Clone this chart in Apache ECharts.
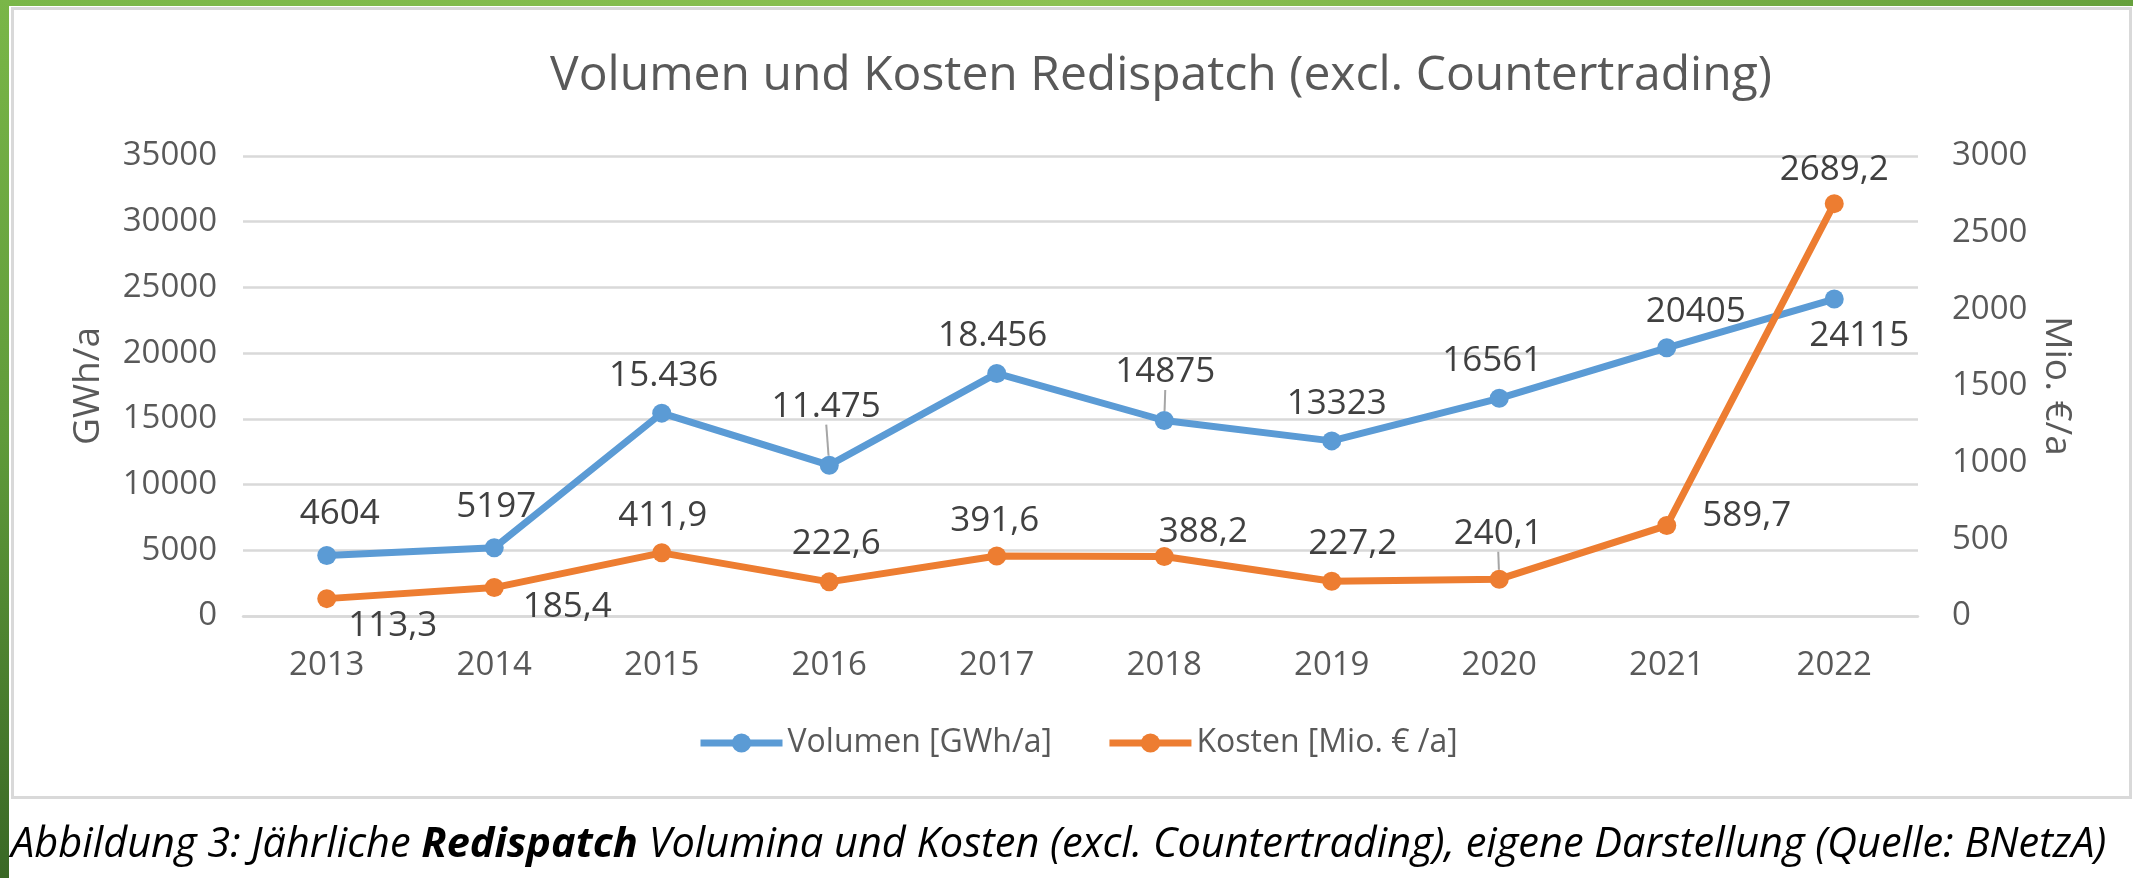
<!DOCTYPE html>
<html><head><meta charset="utf-8">
<script src="https://cdn.jsdelivr.net/npm/echarts@6/dist/echarts.min.js"></script>
<style>html,body{margin:0;padding:0;background:#fff}#c{width:2133px;height:878px}</style>
</head><body><div id="c"></div>
<script>
// ---- data ----
const categories = ['2013','2014','2015','2016','2017','2018','2019','2020','2021','2022'];
const volumen = [4604, 5197, 15436, 11475, 18456, 14875, 13323, 16561, 20405, 24115];
const kosten = [113.3, 185.4, 411.9, 222.6, 391.6, 388.2, 227.2, 240.1, 589.7, 2689.2];
const volumenLabels = ['4604','5197','15.436','11.475','18.456','14875','13323','16561','20405','24115'];
const kostenLabels = ['113,3','185,4','411,9','222,6','391,6','388,2','227,2','240,1','589,7','2689,2'];
const seriesNames = ['Volumen [GWh/a]', 'Kosten [Mio. \u20AC /a]'];
const axisNames = ['GWh/a', 'Mio. \u20AC/a'];
const titleText = 'Volumen und Kosten Redispatch (excl. Countertrading)';

// ---- layout / style (label placement) ----
const volOffsets = [[13,-41],[2,-41],[2,-37],[-3,-58],[-4,-37],[1,-48],[5,-37],[-7,-37],[29,-36],[25,37]];
const volLeader = [false,false,false,true,false,true,false,false,false,false];
const kosOffsets = [[66,27],[73,19],[1,-37],[7,-38],[-2,-35],[39,-24],[21,-37],[-1,-45],[80,-10],[0,-34]];
const kosLeader = [false,false,false,false,false,false,false,true,false,false];

const FONT = 'Open Sans';
const GRAY = '#595959';
const BLUE = '#5B9BD5', ORANGE = '#ED7D31';

const chart = echarts.init(document.getElementById('c'), null, {renderer:'canvas'});

function mk(vals, labels, offs, leads) {
  return vals.map((v,i)=>({
    value: v,
    label: { offset: offs[i], formatter: labels[i] },
    labelLine: { show: leads[i] }
  }));
}

const option = {
  backgroundColor: '#ffffff',
  animation: false,
  title: {
    text: titleText, left: 1156, top: 47, textAlign: 'center',
    textStyle: { fontFamily: FONT, fontSize: 48, fontWeight: 'normal', color: GRAY }
  },
  legend: {
    data: seriesNames, left: 692, top: 722, itemWidth: 82, itemHeight: 24, itemGap: 54,
    lineStyle: { width: 7 },
    textStyle: { fontFamily: FONT, fontSize: 32, color: GRAY }
  },
  grid: { left: 243, right: 215, top: 156, bottom: 262, containLabel: false },
  xAxis: {
    type: 'category', data: categories, boundaryGap: true,
    axisLine: { lineStyle: { color: '#D9D9D9', width: 2.5 } },
    axisTick: { show: false },
    axisLabel: { color: GRAY, fontFamily: FONT, fontSize: 33, margin: 33 }
  },
  yAxis: [
    {
      type: 'value', min: 0, max: 35000, interval: 5000, position: 'left',
      name: axisNames[0], nameLocation: 'middle', nameGap: 136,
      nameTextStyle: { fontFamily: FONT, fontSize: 37, color: GRAY },
      axisLine: { show: false }, axisTick: { show: false },
      axisLabel: { color: GRAY, fontFamily: FONT, fontSize: 33, margin: 26, formatter: v => String(v) },
      splitLine: { lineStyle: { color: '#D9D9D9', width: 2.5 } }
    },
    {
      type: 'value', min: 0, max: 3000, interval: 500, position: 'right',
      name: axisNames[1], nameLocation: 'middle', nameGap: 120, nameRotate: -90,
      nameTextStyle: { fontFamily: FONT, fontSize: 37, color: GRAY },
      axisLine: { show: false }, axisTick: { show: false },
      axisLabel: { color: GRAY, fontFamily: FONT, fontSize: 33, margin: 34, formatter: v => String(v) },
      splitLine: { show: false }
    }
  ],
  series: [
    {
      name: seriesNames[0], type: 'line', yAxisIndex: 0,
      data: mk(volumen, volumenLabels, volOffsets, volLeader),
      symbol: 'circle', symbolSize: 19,
      lineStyle: { color: BLUE, width: 7 }, itemStyle: { color: BLUE },
      label: { show: true, position: 'inside', color: '#404040', fontFamily: FONT, fontSize: 35 },
      labelLine: { show: false, lineStyle: { color: '#A6A6A6', width: 2 } }
    },
    {
      name: seriesNames[1], type: 'line', yAxisIndex: 1,
      data: mk(kosten, kostenLabels, kosOffsets, kosLeader),
      symbol: 'circle', symbolSize: 19,
      lineStyle: { color: ORANGE, width: 7 }, itemStyle: { color: ORANGE },
      label: { show: true, position: 'inside', color: '#404040', fontFamily: FONT, fontSize: 35 },
      labelLine: { show: false, lineStyle: { color: '#A6A6A6', width: 2 } }
    }
  ],
  graphic: [
    { type: 'rect', shape: { x: 0, y: 0, width: 2133, height: 6 }, silent: true,
      style: { fill: new echarts.graphic.LinearGradient(0,0,1,0,[{offset:0,color:'#79B648'},{offset:0.5,color:'#8CC152'},{offset:1,color:'#66A03C'}]) } },
    { type: 'rect', shape: { x: 0, y: 0, width: 9, height: 878 }, silent: true,
      style: { fill: new echarts.graphic.LinearGradient(0,0,0,1,[{offset:0,color:'#7AB648'},{offset:0.5,color:'#5F9A3A'},{offset:1,color:'#3A6825'}]) } },
    { type: 'rect', shape: { x: 12.5, y: 8.5, width: 2118, height: 789 }, silent: true,
      style: { fill: null, stroke: '#D9D9D9', lineWidth: 3 } },
    { type: 'text', x: 11, y: 845, silent: true,
      style: {
        text: '{a|Abbildung 3: J\u00E4hrliche }{b|Redispatch}{a| Volumina und Kosten (excl. Countertrading), eigene Darstellung (Quelle: BNetzA)}',
        verticalAlign: 'middle',
        rich: {
          a: { fontFamily: FONT, fontSize: 41.5, fontStyle: 'italic', fill: '#000000' },
          b: { fontFamily: FONT, fontSize: 41.5, fontStyle: 'italic', fontWeight: 'bold', fill: '#000000' }
        }
      } }
  ]
};
chart.setOption(option);
</script>
</body></html>
